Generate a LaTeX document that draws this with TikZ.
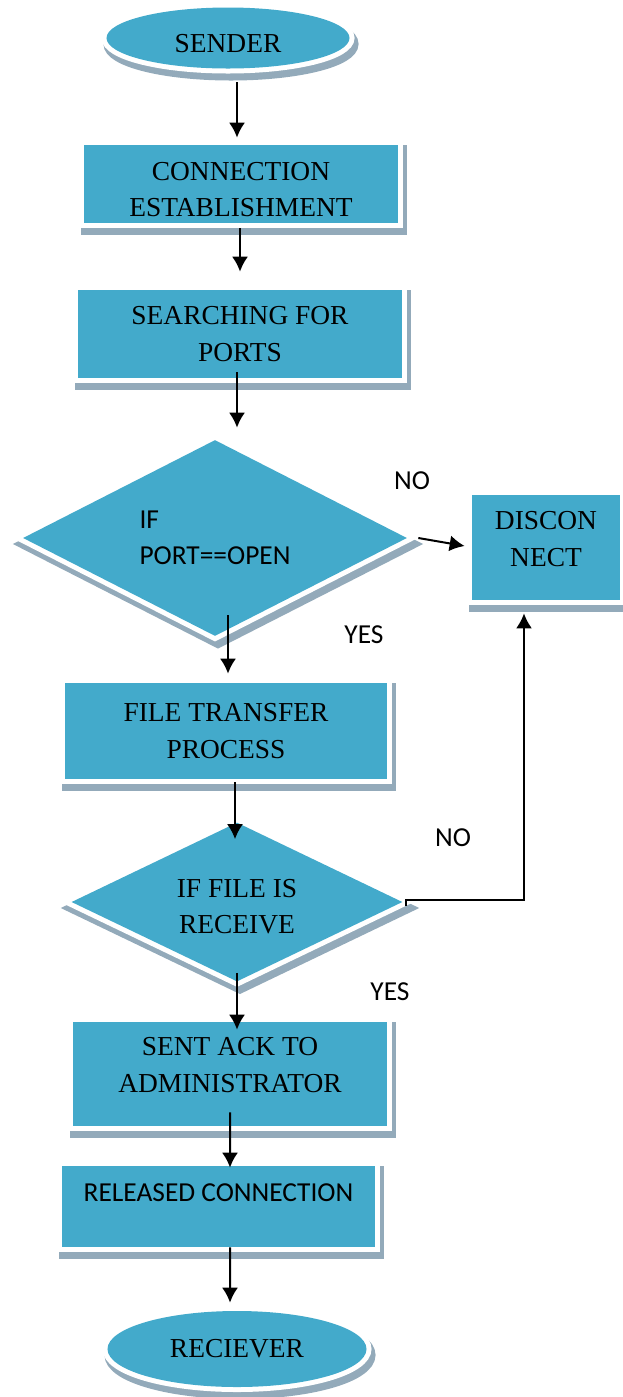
\documentclass[tikz,border=0pt]{standalone}
\usepackage{fontspec}
\setmainfont{Liberation Serif}
\newfontfamily\calibri{Carlito}
\usepackage{tikz}
\usetikzlibrary{shapes,arrows.meta}
\usetikzlibrary{positioning}
\definecolor{boxblue}{RGB}{67,170,203}
\definecolor{shadowgrey}{RGB}{147,170,186}
\tikzset{auto,>={Latex[length=3mm,width=3.2mm]}, minimum size=0pt, x=0.2mm, y=-0.2mm, font=\fontsize{15.6}{20.8}\selectfont}
\tikzstyle{raised} = [preaction={draw=shadowgrey, fill=shadowgrey, line width=2.4mm, transform canvas={xshift=0.6mm, yshift=-1.2mm}}, preaction={draw=white, line width=2mm}, fill=boxblue]
\tikzstyle{block} = [raised, rectangle, inner sep=0pt, text centered, align=center]
\tikzstyle{decision} = [raised, diamond, aspect=2, inner sep=0pt, align=center]
\tikzstyle{terminal} = [raised, ellipse, inner sep=0pt]
\tikzstyle{answer} = [inner sep=0pt, font=\calibri\fontsize{15.6}{20.8}\selectfont]
\tikzstyle{flow} = [draw, ->, line width=0.4mm]

\begin{document}
\begin{tikzpicture}
		\useasboundingbox (0,0) rectangle (623,1397);

		\node [terminal, minimum width=48.6mm, minimum height=12.2mm, label={[name=sendertext, yshift=-1.2mm]center:SENDER}] (sender) at (228,38) {};
		\node [block, minimum width=62.6mm, minimum height=15.6mm, label={[name=conntext, yshift=-1.1mm, align=center]center:{CONNECTION\\ESTABLISHMENT}}] (conn) at (241,184) {};
		\node [block, minimum width=64.6mm, minimum height=17.6mm] (search) at (240,334) {SEARCHING FOR\\PORTS};
		\node [decision, minimum width=76.8mm, minimum height=39.2mm, align=left, font=\calibri\fontsize{15.6}{20.8}\selectfont] (ifport) at (215,538) {IF\\PORT==OPEN};
		\node [block, minimum width=29.6mm, minimum height=21mm, label={[name=disctext, yshift=1.7mm, align=center]center:{DISCON\\NECT}}] (disc) at (546,547.5) {};
		\node [block, minimum width=64.4mm, minimum height=19.2mm] (filet) at (226,731) {FILE TRANSFER\\PROCESS};
		\node [decision, minimum width=66.2mm, minimum height=31.8mm, label={[name=filetext, yshift=-0.9mm, align=center]center:{IF FILE IS\\RECEIVE}}] (iffile) at (237,902) {};
		\node [block, minimum width=62.8mm, minimum height=20.8mm, label={[name=acktext, yshift=1.8mm, align=center]center:{SENT ACK TO\\ADMINISTRATOR}}] (ack) at (230,1074) {};
		\node [block, minimum width=62.6mm, minimum height=16.2mm, label={[name=reltext, yshift=2.7mm, font=\calibri\fontsize{15.6}{20.8}\selectfont]center:RELEASED CONNECTION}] (rel) at (218.5,1206.5) {};
		\node [terminal, minimum width=51.8mm, minimum height=15.2mm] (recv) at (237,1349) {RECIEVER};

		\node [answer] (no1) at (412,481) {NO};
		\node [answer] (yes1) at (364,635) {YES};
		\node [answer] (no2) at (453,838) {NO};
		\node [answer] (yes2) at (390,992) {YES};

		\draw [flow] ([shift={(9,13.5)}]sender.south) -- ([shift={(-4,-7)}]conn.north);
		\draw [flow] ([shift={(-1,5)}]conn.south) -- ([shift={(0,-18)}]search.north);
		\draw [flow] ([shift={(-3,-6)}]search.south) -- ([shift={(22,-12)}]ifport.north);
		\draw [flow] ([shift={(13,-21)}]ifport.south) -- ([shift={(2,-9)}]filet.north);
		\draw [flow] ([shift={(11,0)}]ifport.east) -- ([shift={(-7,-1.5)}]disc.west);
		\draw [flow] ([shift={(9,3)}]filet.south) -- ([shift={(-2,17)}]iffile.north);
		\draw [flow] ([shift={(3,4)}]iffile.east) -- ++(0,-6) -| ([shift={(-22,13)}]disc.south);
		\draw [flow] ([shift={(0,-9)}]iffile.south) -- ([shift={(7,8)}]ack.north);
		\draw [flow] ([shift={(0,-14)}]ack.south) -- ([shift={(11.5,2)}]rel.north);
		\draw [flow] ([shift={(11.5,0)}]rel.south) -- ([shift={(-7,-8)}]recv.north);
	\end{tikzpicture}
\end{document}
